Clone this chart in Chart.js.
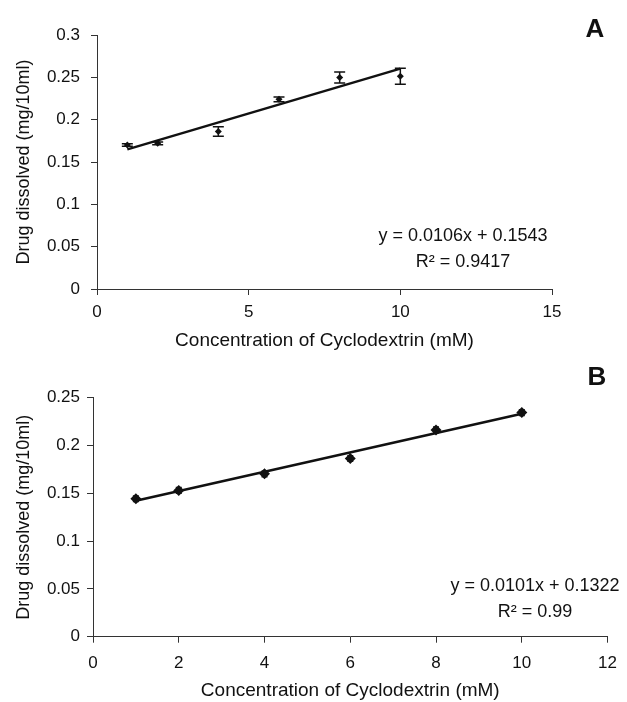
<!DOCTYPE html>
<html lang="en">
<head>
  <meta charset="UTF-8">
  <title>Drug dissolved vs Cyclodextrin</title>
  <script src="https://cdn.jsdelivr.net/npm/chart.js"></script>
  <style>
    body { margin: 0; background: #fff; }
    .panel { position: absolute; left: 0; width: 627px; height: 352px; }
    #panelA { top: 0; }
    #panelB { top: 350px; }
  </style>
</head>
<body>
  <div class="panel" id="panelA"><canvas id="chartA"></canvas></div>
  <div class="panel" id="panelB"><canvas id="chartB"></canvas></div>

  <script>
    // panel A
    const concA = [1, 2, 4, 6, 8, 10];
    const drugA = [0.170, 0.172, 0.186, 0.224, 0.2497, 0.2512];
    const errA = [0.0015, 0.0015, 0.0057, 0.0028, 0.0065, 0.0095];
    const trendXA = [1, 10];
    const trendYA = [0.1649, 0.2603];
    const xTicksA = [0, 5, 10, 15];
    const yTicksA = [0, 0.05, 0.1, 0.15, 0.2, 0.25, 0.3];
    const eqA = ['y = 0.0106x + 0.1543', 'R² = 0.9417'];

    // panel B
    const concB = [1, 2, 4, 6, 8, 10];
    const drugB = [0.1443, 0.1530, 0.1704, 0.1864, 0.2163, 0.2344];
    const errB = [0.003, 0.003, 0.003, 0.003, 0.003, 0.003];
    const trendXB = [1, 10];
    const trendYB = [0.1423, 0.2332];
    const xTicksB = [0, 2, 4, 6, 8, 10, 12];
    const yTicksB = [0, 0.05, 0.1, 0.15, 0.2, 0.25];
    const eqB = ['y = 0.0101x + 0.1322', 'R² = 0.99'];

    const xTitle = 'Concentration of Cyclodextrin (mM)';
    const yTitle = 'Drug dissolved (mg/10ml)';
    const FONT = '"Liberation Sans", Arial, sans-serif';
    const INK = '#111';

    Chart.defaults.font.family = FONT;
    Chart.defaults.color = INK;

    const errorBars = {
      id: 'errorBars',
      afterDatasetsDraw(chart, args, opts) {
        const meta = chart.getDatasetMeta(0);
        const y = chart.scales.y;
        const ctx = chart.ctx;
        ctx.save();
        ctx.strokeStyle = INK;
        ctx.lineWidth = 1.5;
        meta.data.forEach((pt, i) => {
          const v = chart.data.datasets[0].data[i].y;
          const top = y.getPixelForValue(v + opts.errors[i]);
          const bot = y.getPixelForValue(v - opts.errors[i]);
          ctx.beginPath();
          ctx.moveTo(pt.x, top); ctx.lineTo(pt.x, bot);
          ctx.moveTo(pt.x - opts.cap, top); ctx.lineTo(pt.x + opts.cap, top);
          ctx.moveTo(pt.x - opts.cap, bot); ctx.lineTo(pt.x + opts.cap, bot);
          ctx.stroke();
        });
        ctx.restore();
      }
    };

    const panelText = {
      id: 'panelText',
      afterDraw(chart, args, opts) {
        const ctx = chart.ctx;
        ctx.save();
        ctx.fillStyle = INK;
        ctx.textAlign = 'center';
        ctx.textBaseline = 'middle';
        ctx.font = 'bold 26px ' + FONT;
        ctx.fillText(opts.letter, opts.letterX, opts.letterY);
        ctx.font = '18px ' + FONT;
        opts.lines.forEach((t, i) => ctx.fillText(t, opts.eqX, opts.eqY + i * 26));
        ctx.restore();
      }
    };

    function makeChart(id, cfg) {
      const pts = cfg.x.map((x, i) => ({ x, y: cfg.y[i] }));
      const trend = cfg.tx.map((x, i) => ({ x, y: cfg.ty[i] }));
      const axisGrid = { drawOnChartArea: false, color: '#333', tickLength: 6 };
      return new Chart(document.getElementById(id), {
        type: 'scatter',
        data: {
          datasets: [
            {
              data: pts,
              pointStyle: 'rectRot',
              pointRadius: cfg.radius,
              backgroundColor: INK,
              borderColor: INK,
              borderWidth: 0
            },
            {
              type: 'line',
              data: trend,
              borderColor: INK,
              borderWidth: 2.5,
              pointRadius: 0,
              fill: false
            }
          ]
        },
        options: {
          responsive: false,
          animation: false,
          events: [],
          layout: { padding: { left: 0, top: cfg.top, right: 627 - cfg.right, bottom: 0 } },
          plugins: {
            legend: { display: false },
            tooltip: { enabled: false },
            errorBars: { errors: cfg.err, cap: cfg.cap },
            panelText: cfg.text
          },
          scales: {
            x: {
              type: 'linear',
              min: cfg.xTicks[0],
              max: cfg.xTicks[cfg.xTicks.length - 1],
              afterBuildTicks: s => { s.ticks = cfg.xTicks.map(v => ({ value: v })); },
              afterFit: s => { s.height = 352 - cfg.bottom; },
              grid: axisGrid,
              border: { color: '#333', width: 1 },
              ticks: { font: { size: 17 }, padding: cfg.xPad, color: INK, maxRotation: 0 },
              title: { display: true, text: xTitle, font: { size: 19 }, padding: 0, color: INK }
            },
            y: {
              min: cfg.yTicks[0],
              max: cfg.yTicks[cfg.yTicks.length - 1],
              afterBuildTicks: s => { s.ticks = cfg.yTicks.map(v => ({ value: v })); },
              afterFit: s => { s.width = cfg.left; },
              grid: axisGrid,
              border: { color: '#333', width: 1 },
              ticks: { font: { size: 17 }, padding: cfg.yPad, color: INK, callback: v => String(v) },
              title: { display: true, text: yTitle, font: { size: 18 }, padding: { top: 13, bottom: 0 }, color: INK }
            }
          }
        },
        plugins: [errorBars, panelText]
      });
    }

    const canvasA = document.getElementById('chartA');
    const canvasB = document.getElementById('chartB');
    [canvasA, canvasB].forEach(c => { c.width = 627; c.height = 352; c.style.width = '627px'; c.style.height = '352px'; });

    makeChart('chartA', {
      x: concA, y: drugA, err: errA, tx: trendXA, ty: trendYA,
      xTicks: xTicksA, yTicks: yTicksA, radius: 3.5, cap: 5.5,
      left: 97, right: 552, top: 35, bottom: 289, xPad: 7, yPad: 11,
      text: { letter: 'A', letterX: 595, letterY: 30, lines: eqA, eqX: 463, eqY: 236 }
    });

    makeChart('chartB', {
      x: concB, y: drugB, err: errB, tx: trendXB, ty: trendYB,
      xTicks: xTicksB, yTicks: yTicksB, radius: 5.5, cap: 3,
      left: 93, right: 614.5, top: 47.7, bottom: 286.7, xPad: 10, yPad: 7,
      text: { letter: 'B', letterX: 597, letterY: 28, lines: eqB, eqX: 535, eqY: 236 }
    });
  </script>
</body>
</html>
